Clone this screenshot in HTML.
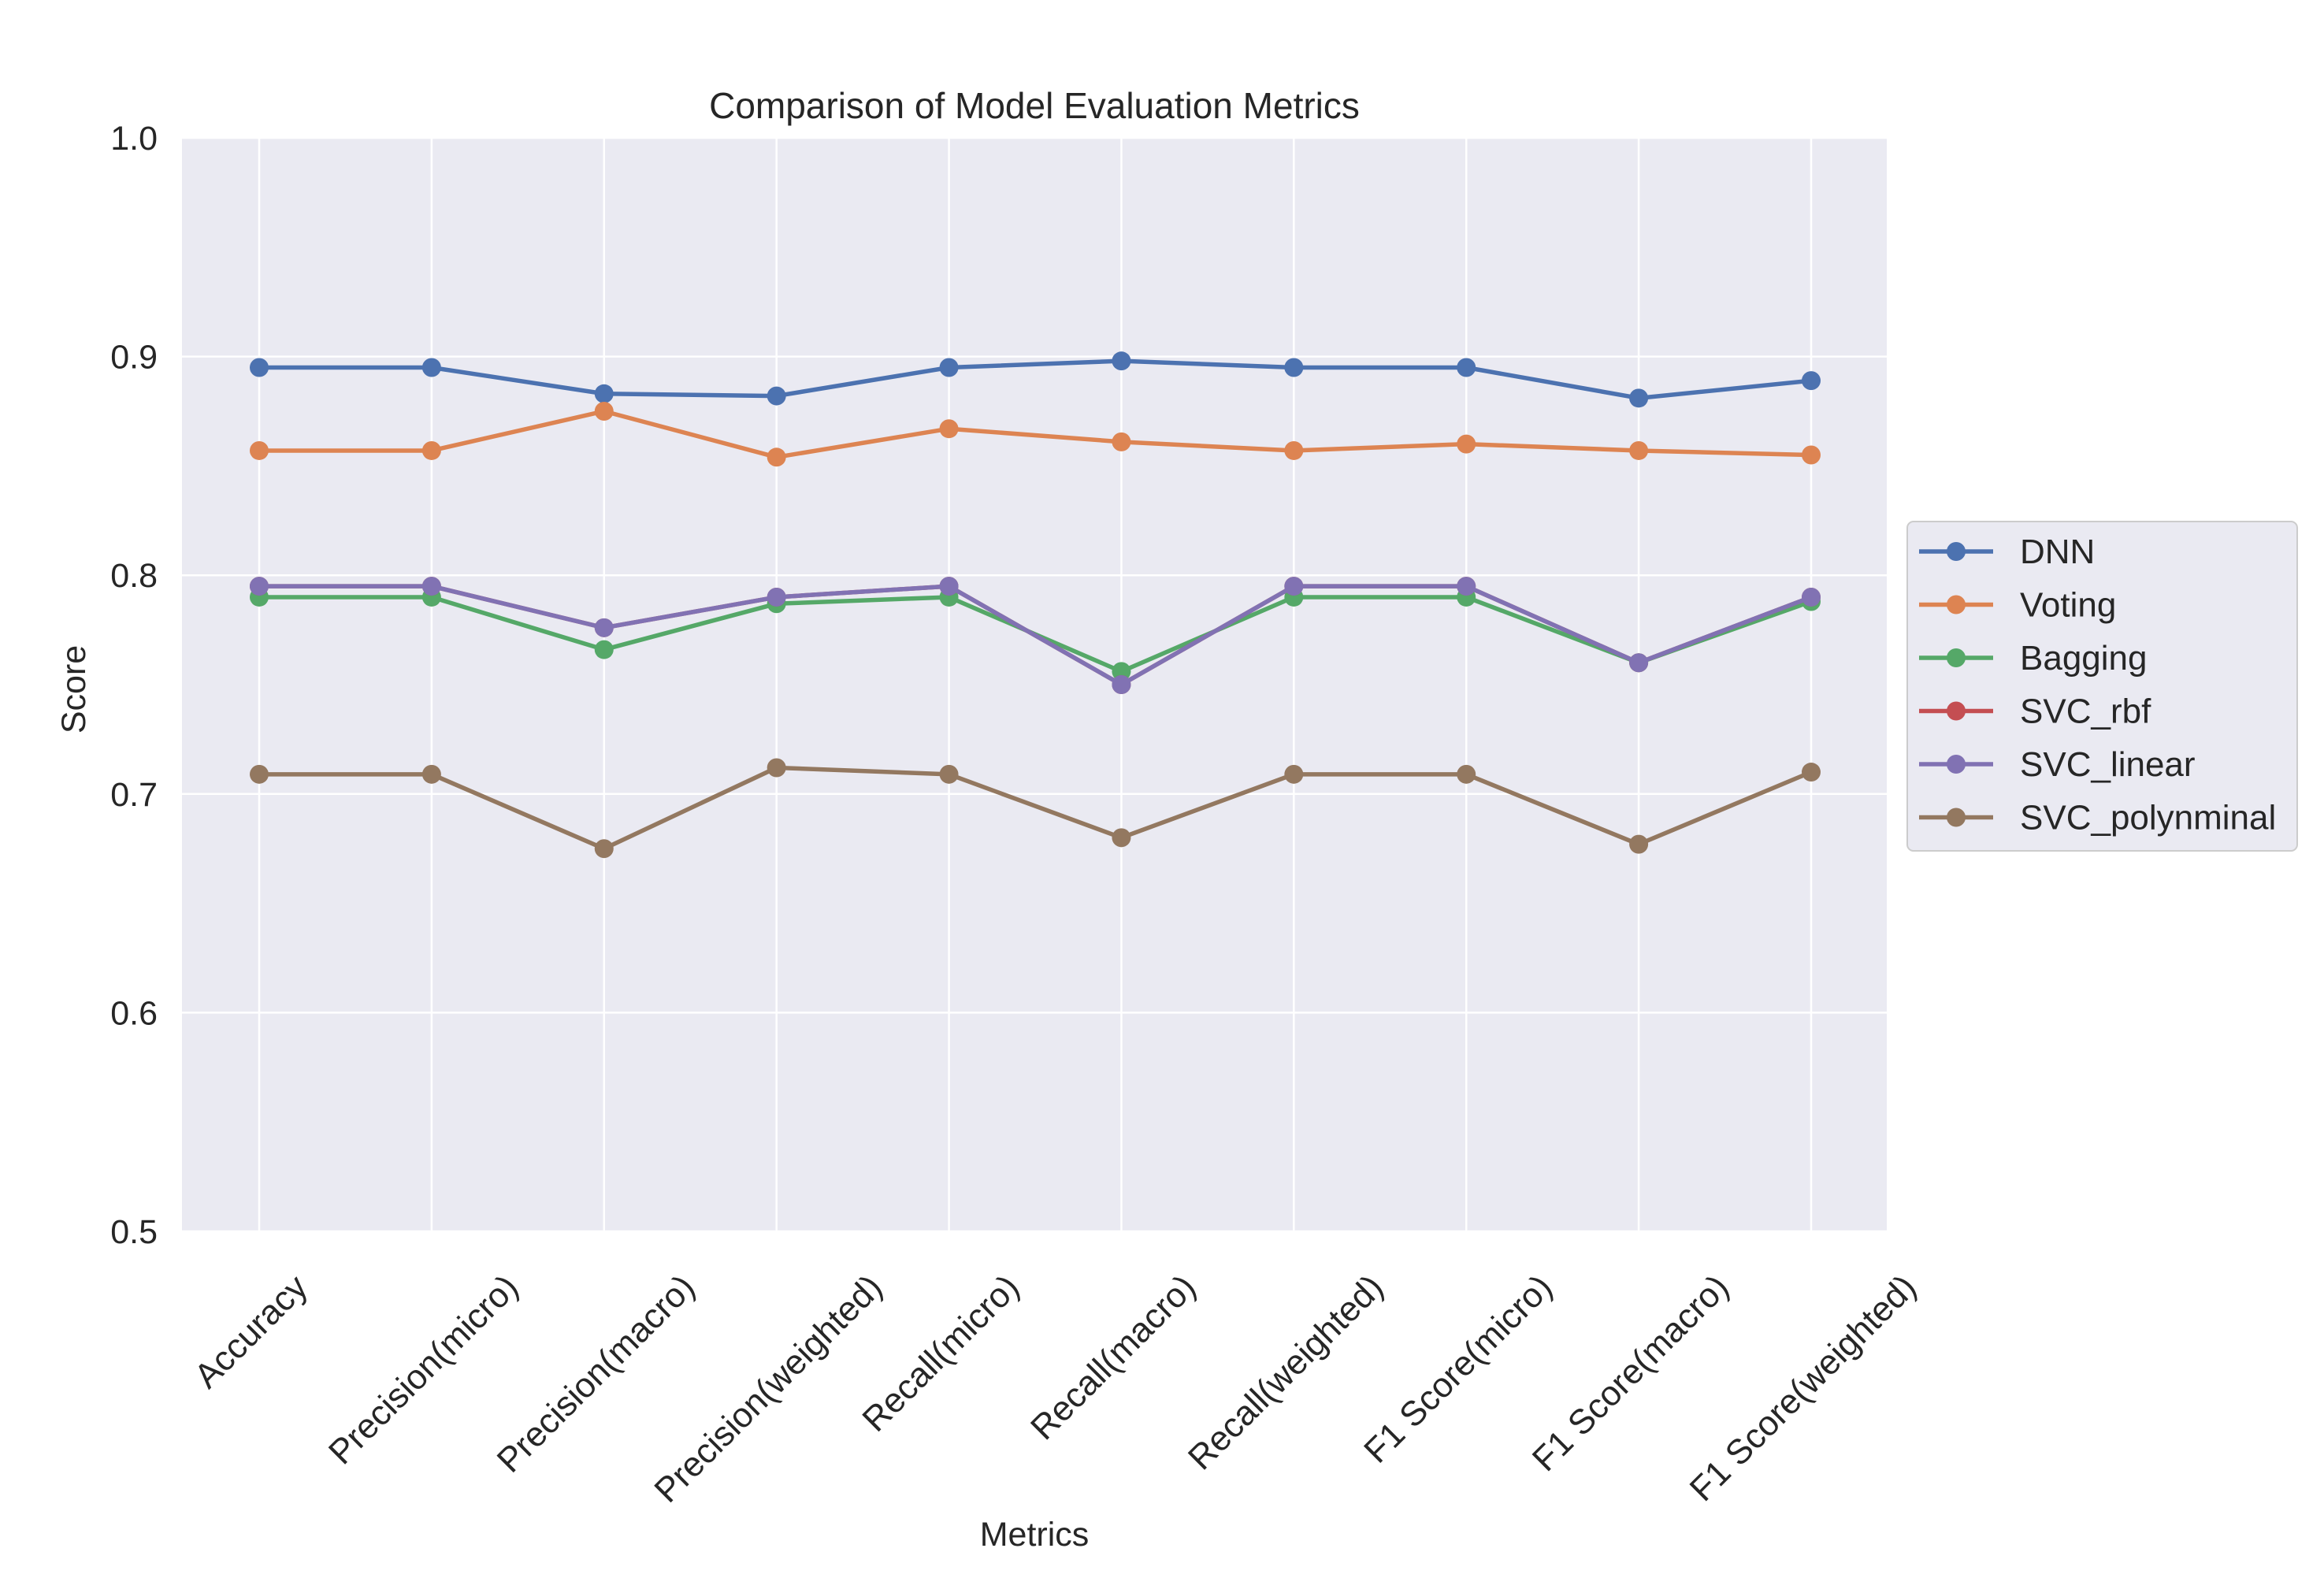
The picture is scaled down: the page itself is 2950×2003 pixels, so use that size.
<!DOCTYPE html>
<html><head><meta charset="utf-8"><style>
html,body{margin:0;padding:0;background:#fff;}
svg{display:block;font-family:"Liberation Sans",Arial,sans-serif;}
</style></head><body>
<svg id="chart" width="2950" height="2003" viewBox="0 0 2950 2003">
<rect x="231" y="175" width="2164" height="1388" fill="#eaeaf2"/>
<g id="grid"></g><g id="yticks"></g><g id="xticks"></g><g id="series"></g>
<text x="1313" y="150" font-size="46" text-anchor="middle" fill="#262626">Comparison of Model Evaluation Metrics</text>
<text x="0" y="0" font-size="43" text-anchor="middle" fill="#262626" transform="translate(108,875) rotate(-90)">Score</text>
<text x="1313" y="1962" font-size="43" text-anchor="middle" fill="#262626">Metrics</text>
<g id="legend">
<rect x="2421" y="662" width="495" height="418" rx="8" fill="#eaeaf2" stroke="#cccccc" stroke-width="2"/>
</g>
</svg>
<script>
const categories=["Accuracy","Precision(micro)","Precision(macro)","Precision(weighted)","Recall(micro)","Recall(macro)","Recall(weighted)","F1 Score(micro)","F1 Score(macro)","F1 Score(weighted)"];
const seriesNames=["DNN","Voting","Bagging","SVC_rbf","SVC_linear","SVC_polynminal"];
const dnn=[0.895,0.895,0.883,0.882,0.895,0.898,0.895,0.895,0.881,0.889];
const voting=[0.857,0.857,0.875,0.854,0.867,0.861,0.857,0.860,0.857,0.855];
const bagging=[0.790,0.790,0.766,0.787,0.790,0.756,0.790,0.790,0.760,0.788];
const svcRbf=[0.795,0.795,0.776,0.790,0.795,0.750,0.795,0.795,0.760,0.790];
const svcLinear=[0.795,0.795,0.776,0.790,0.795,0.750,0.795,0.795,0.760,0.790];
const svcPoly=[0.709,0.709,0.675,0.712,0.709,0.680,0.709,0.709,0.677,0.710];
const yTicks=[0.5,0.6,0.7,0.8,0.9,1.0];
const yTickLabels=["0.5","0.6","0.7","0.8","0.9","1.0"];
const colors=["#4c72b0","#dd8452","#55a868","#c44e52","#8172b3","#937860"];
const allSeries=[dnn,voting,bagging,svcRbf,svcLinear,svcPoly];

const NS="http://www.w3.org/2000/svg";
const L=231,R=2395,T=175,B=1563;
const x0=329,x1=2299;
function xs(i){return x0+(x1-x0)*i/(categories.length-1);}
function ys(v){return B-(v-0.5)/(1.0-0.5)*(B-T);}
function mk(tag,attrs,parent){const e=document.createElementNS(NS,tag);for(const k in attrs)e.setAttribute(k,attrs[k]);parent.appendChild(e);return e;}

const grid=document.getElementById('grid');
const yt=document.getElementById('yticks');
yTicks.forEach((v,i)=>{
  const g=mk('line',{x1:L,x2:R,y1:ys(v),y2:ys(v),stroke:'#fff','stroke-width':2.5},grid);
  
  
  const t=mk('text',{x:200,y:ys(v)+15,'font-size':43,'text-anchor':'end',fill:'#262626'},yt);
  t.textContent=yTickLabels[i];
  
  
});
const xt=document.getElementById('xticks');
categories.forEach((c,i)=>{
  const g=mk('line',{x1:xs(i),x2:xs(i),y1:T,y2:B,stroke:'#fff','stroke-width':2.5},grid);
  
  
  const t=mk('text',{x:0,y:0,'font-size':44,'text-anchor':'middle',fill:'#262626'},xt);
  t.textContent=c;
  
  
  const w=t.getComputedTextLength(),h=44;
  const half=(w+h)*0.7071/2;
  const cy=1606+half;
  t.setAttribute('transform','translate('+xs(i)+','+(cy+15)+') rotate(-45)');
});
const sg=document.getElementById('series');
allSeries.forEach((arr,s)=>{
  const g=mk('g',{},sg);
  
  
  const pts=arr.map((v,i)=>xs(i)+','+ys(v)).join(' ');
  const pl=mk('polyline',{points:pts,fill:'none',stroke:colors[s],'stroke-width':5.5,'stroke-linejoin':'round'},g);
  
  
  arr.forEach((v,i)=>{
    const c=mk('circle',{cx:xs(i),cy:ys(v),r:12,fill:colors[s]},g);
    
    
  });
});
const lg=document.getElementById('legend');
seriesNames.forEach((n,i)=>{
  const y=700+i*67.5;
  const g=mk('g',{},lg);
  
  
  mk('line',{x1:2436,x2:2530,y1:y,y2:y,stroke:colors[i],'stroke-width':5.5},g);
  mk('circle',{cx:2483,cy:y,r:12,fill:colors[i]},g);
  const t=mk('text',{x:2564,y:y+15,'font-size':44,fill:'#262626'},g);
  t.textContent=n;
});
</script>
</body></html>
